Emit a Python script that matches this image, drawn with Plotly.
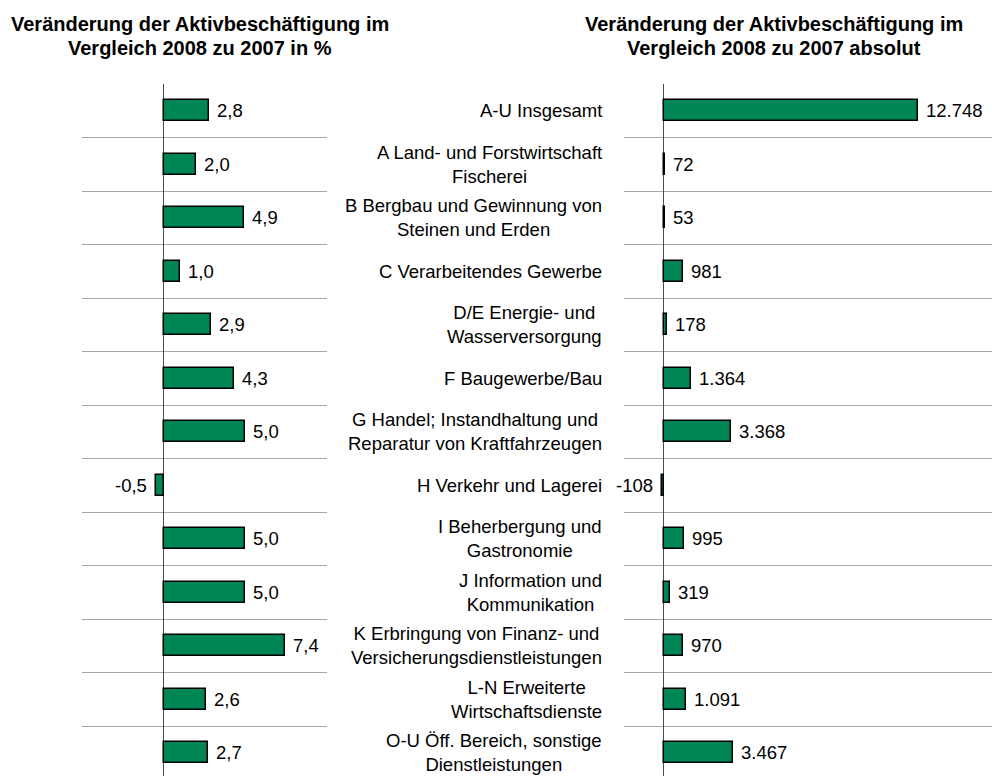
import plotly.graph_objects as go

categories = [
    "A-U Insgesamt",
    "A Land- und Forstwirtschaft<br>Fischerei",
    "B Bergbau und Gewinnung von<br>Steinen und Erden",
    "C Verarbeitendes Gewerbe",
    "D/E Energie- und<br>Wasserversorgung",
    "F Baugewerbe/Bau",
    "G Handel; Instandhaltung und<br>Reparatur von Kraftfahrzeugen",
    "H Verkehr und Lagerei",
    "I Beherbergung und<br>Gastronomie",
    "J Information und<br>Kommunikation",
    "K Erbringung von Finanz- und<br>Versicherungsdienstleistungen",
    "L-N Erweiterte<br>Wirtschaftsdienste",
    "O-U Öff. Bereich, sonstige<br>Dienstleistungen",
]
pct_change = [2.8, 2.0, 4.9, 1.0, 2.9, 4.3, 5.0, -0.5, 5.0, 5.0, 7.4, 2.6, 2.7]
abs_change = [12748, 72, 53, 981, 178, 1364, 3368, -108, 995, 319, 970, 1091, 3467]

title_left = ["Veränderung der Aktivbeschäftigung im", "Vergleich 2008 zu 2007 in %"]
title_right = ["Veränderung der Aktivbeschäftigung im", "Vergleich 2008 zu 2007 absolut"]

W, H = 992, 776
TOP = 84
PITCH = 53.5
FONT = "Liberation Sans, Arial, sans-serif"
GREEN = "rgb(0,133,84)"
GRID = "#a6a6a6"
ZERO = "#4d4d4d"

idx = list(range(len(categories)))
rows_visible = (H - TOP) / PITCH
yrange = [-0.5 + rows_visible, -0.5]
grid_vals = [i - 0.5 for i in range(len(categories) + 1)]

fig = go.Figure()
fig.add_trace(go.Bar(x=pct_change, y=idx, orientation="h", width=0.4,
                     marker=dict(color=GREEN, line=dict(color="black", width=1.5)),
                     xaxis="x", yaxis="y", hoverinfo="skip", showlegend=False))
fig.add_trace(go.Bar(x=abs_change, y=idx, orientation="h", width=0.4,
                     marker=dict(color=GREEN, line=dict(color="black", width=1.5)),
                     xaxis="x2", yaxis="y2", hoverinfo="skip", showlegend=False))

annotations = []
for i, v in enumerate(pct_change):
    annotations.append(dict(x=v, y=i, xref="x", yref="y",
                            text=f"{v:.1f}".replace(".", ","), showarrow=False,
                            xanchor="left" if v >= 0 else "right",
                            xshift=6 if v >= 0 else -7, yanchor="middle",
                            font=dict(family=FONT, size=18.5, color="black")))
for i, v in enumerate(abs_change):
    annotations.append(dict(x=v, y=i, xref="x2", yref="y2",
                            text=f"{v:,}".replace(",", "."), showarrow=False,
                            xanchor="left" if v >= 0 else "right",
                            xshift=6 if v >= 0 else -7, yanchor="middle",
                            font=dict(family=FONT, size=18.5, color="black")))
for i, c in enumerate(categories):
    annotations.append(dict(x=604 / W, y=i, xref="paper", yref="y",
                            text=c, showarrow=False, xanchor="right", yanchor="middle",
                            align="center",
                            font=dict(family=FONT, size=18.5, color="black")))

def py(p):
    return (H - p) / (H - TOP)

for lines, cx in ((title_left, 200), (title_right, 774)):
    for k, t in enumerate(lines):
        annotations.append(dict(x=cx / W, y=py(24 + 24 * k), xref="paper", yref="paper",
                                text=f"<b>{t}</b>", showarrow=False,
                                xanchor="center", yanchor="middle",
                                font=dict(family=FONT, size=20, color="black")))

yax = dict(range=yrange, tickvals=grid_vals, showticklabels=False, ticks="",
           showgrid=True, gridcolor=GRID, gridwidth=1, zeroline=False, showline=False,
           fixedrange=True)

fig.update_layout(
    width=W, height=H,
    margin=dict(l=0, r=0, t=TOP, b=0),
    paper_bgcolor="white", plot_bgcolor="white",
    bargap=0,
    xaxis=dict(domain=[82 / W, 327 / W], range=[-5, 10], showgrid=False,
               showticklabels=False, zeroline=True, zerolinecolor=ZERO, zerolinewidth=1,
               showline=False, anchor="y", fixedrange=True),
    xaxis2=dict(domain=[624 / W, 1.0], range=[-2000, 16460], showgrid=False,
                showticklabels=False, zeroline=True, zerolinecolor=ZERO, zerolinewidth=1,
                showline=False, anchor="y2", fixedrange=True),
    yaxis=dict(anchor="x", **yax),
    yaxis2=dict(anchor="x2", **yax),
    annotations=annotations,
    font=dict(family=FONT),
)

fig.write_html("out.html", config={"displayModeBar": False},
               post_script="document.body.style.margin='0';document.body.style.overflow='hidden';")
